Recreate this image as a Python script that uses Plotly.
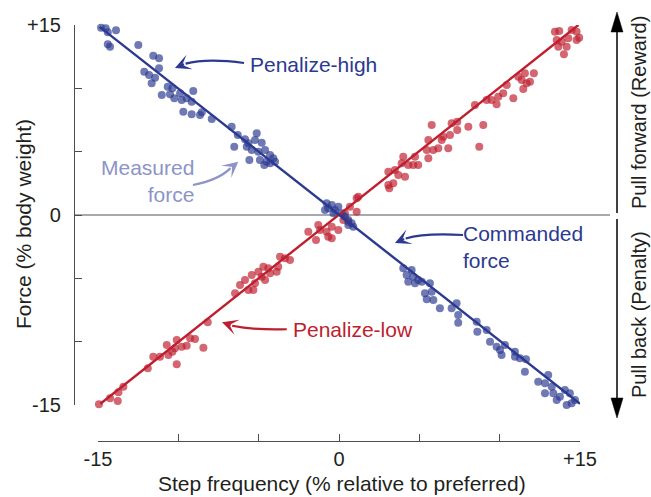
import plotly.graph_objects as go

# ---- measured force, penalize-high condition (blue) ----
high_freq = [-14.81, -14.14, -14.31, -14.52, -13.88, -14.39, -14.39, -14.25,
             -12.49, -11.56, -11.20, -11.20, -12.12, -11.82, -11.45, -11.66,
             -10.66, -10.37, -11.03, -10.52, -10.25, -9.89, -9.79, -9.48,
             -9.07, -9.17, -9.69, -9.17, -8.54, -8.65, -7.92,
             -6.68, -6.30, -5.85, -5.12, -5.23, -4.81, -6.52, -5.74, -5.43,
             -5.02, -4.60, -4.29, -4.09, -5.58, -4.92, -4.50, -3.98, -4.65,
             -4.29, -5.64,
             -0.77, -0.45, -0.67, -0.25, -0.04, -0.87, 0.17, 0.37, 0.58,
             0.79, 0.89, -0.35, 0.58,
             4.00, 4.52, 4.21, 4.62, 4.93, 4.31, 4.73, 5.15, 5.66, 5.35,
             5.77, 5.87, 5.46, 6.28, 7.01, 7.32, 7.42, 7.42,
             8.57, 8.61, 9.19, 9.40, 9.81, 10.02, 10.12, 10.33, 10.95, 10.95,
             11.26, 11.64, 11.57,
             12.40, 13.02, 12.82, 13.24, 13.34, 12.82, 13.75, 14.06, 14.37,
             14.17, 14.48, 14.69, 13.55]
high_force = [14.79, 15.53, 15.06, 14.74, 14.58, 14.42, 13.48, 13.29,
              13.42, 12.58, 12.37, 11.58, 11.31, 11.05, 10.84, 10.40,
              10.13, 10.00, 9.47, 9.53, 9.21, 9.61, 9.08, 9.21,
              9.79, 8.94, 8.16, 7.95, 8.11, 7.89, 7.58,
              6.97, 6.32, 5.98, 6.45, 5.92, 5.71, 5.39, 5.39, 5.13,
              5.00, 5.13, 4.74, 4.48, 4.34, 4.34, 4.21, 4.21, 3.95,
              4.08, 5.66,
              0.92, 0.79, 0.53, 0.39, 0.66, 0.39, 0.13, -0.13, -0.39,
              -0.66, -0.92, 0.13, -0.79,
              -4.21, -4.34, -4.74, -4.87, -5.13, -5.27, -5.39, -5.27, -5.39, -6.18,
              -6.06, -6.71, -6.66, -7.37, -7.37, -6.97, -7.89, -8.50,
              -8.42, -9.21, -9.08, -10.00, -10.40, -10.66, -11.05, -10.26, -10.79, -11.19,
              -11.31, -11.39, -12.37,
              -13.16, -12.63, -13.29, -13.55, -14.08, -14.08, -14.34, -13.82, -14.08,
              -15.00, -14.87, -14.61, -14.61]

# ---- measured force, penalize-low condition (red) ----
low_freq = [-14.94, -14.67, -14.56, -14.81, -14.25, -13.73, -13.42, -13.77, -13.63,
            -11.90, -11.56, -11.14, -10.72, -10.62, -10.37, -10.10, -10.21, -9.79,
            -9.48, -10.10, -9.27, -8.96, -8.44, -8.17,
            -6.47, -6.16, -5.85, -5.64, -5.43, -5.23, -5.02, -4.81, -4.60, -4.40,
            -4.29, -3.88, -3.78, -3.67, -3.36, -3.05, -4.71, -5.33,
            -1.91, -1.29, -1.18, -0.77, -0.45, -0.67, -0.04, 0.58, 1.10, 1.10,
            0.68, 0.37, 0.27, -0.45, 1.20, -1.43,
            3.07, 3.38, 3.07, 3.48, 3.69, 4.11, 3.90, 4.00, 4.31, 4.62, 4.73, 4.93,
            5.56, 5.46, 5.56, 5.77, 5.87, 6.18, 6.39, 6.49, 6.80, 6.91, 7.01, 7.36,
            7.36, 8.05, 8.46, 8.98, 8.73, 9.19, 3.13,
            9.50, 9.81, 9.91, 10.22, 10.44, 10.85, 11.16, 11.37, 11.57, 11.68,
            11.89, 11.47, 12.13,
            13.44, 13.71, 13.55, 13.86, 13.65, 14.17, 14.00, 14.06, 14.37, 14.69,
            14.48, 14.79, 14.95, 14.79, 14.27]
low_force = [-14.95, -15.06, -15.53, -16.32, -14.47, -14.00, -13.56, -14.68, -15.13,
             -12.10, -11.19, -11.19, -10.26, -11.05, -10.79, -9.87, -10.52, -10.40,
             -10.32, -11.79, -9.73, -9.79, -10.48, -8.47,
             -6.18, -5.53, -5.13, -5.92, -4.74, -5.39, -4.48, -4.87, -5.13, -4.21,
             -4.60, -4.48, -4.08, -3.29, -3.42, -3.55, -4.08, -5.92,
             -1.32, -0.79, -1.18, -1.32, -0.92, -1.71, -1.18, -0.53, 0.26, 1.32,
             0.66, 0.13, -0.39, -1.84, 1.44, -1.97,
             2.37, 2.50, 3.42, 3.55, 3.16, 3.02, 4.08, 4.60, 3.95, 3.95, 4.60, 3.95,
             4.48, 5.13, 5.92, 7.11, 5.13, 5.27, 5.92, 6.18, 5.27, 6.32, 7.24, 7.37,
             6.71, 6.97, 8.68, 7.11, 5.39, 9.08, 2.11,
             9.08, 8.74, 9.34, 9.61, 10.26, 9.21, 10.92, 10.66, 11.19, 10.40,
             10.52, 9.95, 11.19,
             14.47, 14.53, 13.82, 13.68, 13.29, 13.29, 12.69, 15.13, 15.53, 15.26,
             14.61, 14.47, 14.00, 13.82, 13.95]

# ---- commanded force lines ----
high_cmd_freq = [-14.9, 15.0]
high_cmd_force = [14.85, -14.9]
low_cmd_freq = [-14.85, 14.9]
low_cmd_force = [-14.9, 15.0]

tick_vals = [-15, -10, -5, 0, 5, 10, 15]
tick_text = ["-15", "", "", "0", "", "", "+15"]

NAVY = "#2B3990"
RED = "#BE1E2D"
LILAC = "#8C94C8"
GREY = "#A7A9AC"
INK = "#231F20"
FONT = "Liberation Sans, Arial, Helvetica, sans-serif"

W, H = 651, 497
ML, MR, MT, MB = 74, 51, 20, 56
PW, PH = W - ML - MR, H - MT - MB


def paper(px, py):
    """Canvas pixel -> paper coordinates."""
    return (px - ML) / PW, (H - MB - py) / PH


fig = go.Figure()

fig.add_trace(go.Scatter(x=low_freq, y=low_force, mode="markers", cliponaxis=False,
                         marker=dict(size=8, color=RED, opacity=0.68, line=dict(width=0))))
fig.add_trace(go.Scatter(x=high_freq, y=high_force, mode="markers", cliponaxis=False,
                         marker=dict(size=8, color=NAVY, opacity=0.68, line=dict(width=0))))
fig.add_trace(go.Scatter(x=low_cmd_freq, y=low_cmd_force, mode="lines", cliponaxis=False,
                         line=dict(color=RED, width=2.4)))
fig.add_trace(go.Scatter(x=high_cmd_freq, y=high_cmd_force, mode="lines", cliponaxis=False,
                         line=dict(color=NAVY, width=2.4)))

x0p, _ = paper(98, 0)
x1p, _ = paper(580, 0)
_, y0p = paper(0, 405)
_, y1p = paper(0, 25)

axis_common = dict(
    range=[-15, 15], anchor="free", position=0, showline=True, linecolor="#4D4D4D",
    linewidth=1.2, ticks="inside", ticklen=7, tickwidth=1.2, tickcolor="#4D4D4D",
    tickvals=tick_vals, ticktext=tick_text, showgrid=False, zeroline=False,
    tickfont=dict(size=20, color=INK, family=FONT),
)
fig.update_xaxes(domain=[x0p, x1p], ticklabelstandoff=0, **axis_common)
fig.update_yaxes(domain=[y0p, y1p], ticklabelstandoff=9, **axis_common)

shapes = []
# zero-force reference line
zx0, _ = paper(74, 0)
zx1, _ = paper(610, 0)
shapes.append(dict(type="line", xref="paper", yref="y", x0=zx0, x1=zx1, y0=0, y1=0,
                   line=dict(color=GREY, width=2), layer="below"))

# vertical direction arrows on the right
ax_x, _ = paper(617, 0)
half = 6 / PW
_, up_tail = paper(0, 213)
_, up_base = paper(0, 32)
_, up_tip = paper(0, 12)
_, dn_tail = paper(0, 219)
_, dn_base = paper(0, 398)
_, dn_tip = paper(0, 418)
for tail, base, tip in [(up_tail, up_base, up_tip), (dn_tail, dn_base, dn_tip)]:
    shapes.append(dict(type="line", xref="paper", yref="paper", x0=ax_x, x1=ax_x,
                       y0=tail, y1=base, line=dict(color="#000", width=1.5)))
    shapes.append(dict(type="path", xref="paper", yref="paper",
                       path=f"M{ax_x - half},{base} L{ax_x + half},{base} L{ax_x},{tip} Z",
                       fillcolor="#000", line=dict(color="#000", width=0.5)))

# curved callout arrows: (tail, control, end-of-curve, tip, colour)
callouts = [
    ((-5.91, 12.0), (-8.21, 12.39), (-9.55, 11.95), (-10.21, 11.6), NAVY),
    ((-9.09, 2.37), (-7.5, 2.75), (-6.75, 3.7), (-6.27, 4.21), LILAC),
    ((7.72, -1.58), (5.35, -1.40), (4.15, -1.85), (3.48, -2.21), NAVY),
    ((-3.25, -9.02), (-5.23, -9.10), (-6.65, -8.74), (-7.28, -8.47), RED),
]
annotations = []
for (tx, ty), (cx, cy), (ex, ey), (hx, hy), col in callouts:
    shapes.append(dict(type="path", xref="x", yref="y",
                       path=f"M{tx},{ty} Q{cx},{cy} {ex},{ey}",
                       line=dict(color=col, width=2.2)))
    annotations.append(dict(x=hx, y=hy, ax=ex, ay=ey, xref="x", yref="y",
                            axref="x", ayref="y", text="", showarrow=True,
                            arrowhead=3, arrowsize=1.2, arrowwidth=2.2,
                            arrowcolor=col, standoff=0))


def label(text, x, y, color, xanchor="left", align="left"):
    annotations.append(dict(x=x, y=y, xref="x", yref="y", text=text, showarrow=False,
                            xanchor=xanchor, yanchor="middle", align=align,
                            font=dict(size=21, color=color, family=FONT)))


label("Penalize-high", -5.66, 11.92, NAVY)
label("Measured<br>force", -8.90, 2.72, LILAC, xanchor="right", align="right")
label("Commanded<br>force", 7.6, -2.55, NAVY)
label("Penalize-low", -3.0, -9.0, RED)

# axis titles and direction labels
for text, (px, py), angle, size in [
    ("Step frequency (% relative to preferred)", (342, 484), 0, 21),
    ("Force (% body weight)", (24, 224), -90, 21),
    ("Pull forward (Reward)", (639, 113), -90, 20),
    ("Pull back (Penalty)", (639, 315), -90, 20),
]:
    xp, yp = paper(px, py)
    annotations.append(dict(x=xp, y=yp, xref="paper", yref="paper", text=text,
                            showarrow=False, textangle=angle, xanchor="center",
                            yanchor="middle", font=dict(size=size, color=INK, family=FONT)))

fig.update_layout(
    width=W, height=H, margin=dict(l=ML, r=MR, t=MT, b=MB, autoexpand=False),
    plot_bgcolor="white", paper_bgcolor="white", showlegend=False,
    font=dict(family=FONT, color=INK), shapes=shapes, annotations=annotations,
)

fig.write_html("out.html")
